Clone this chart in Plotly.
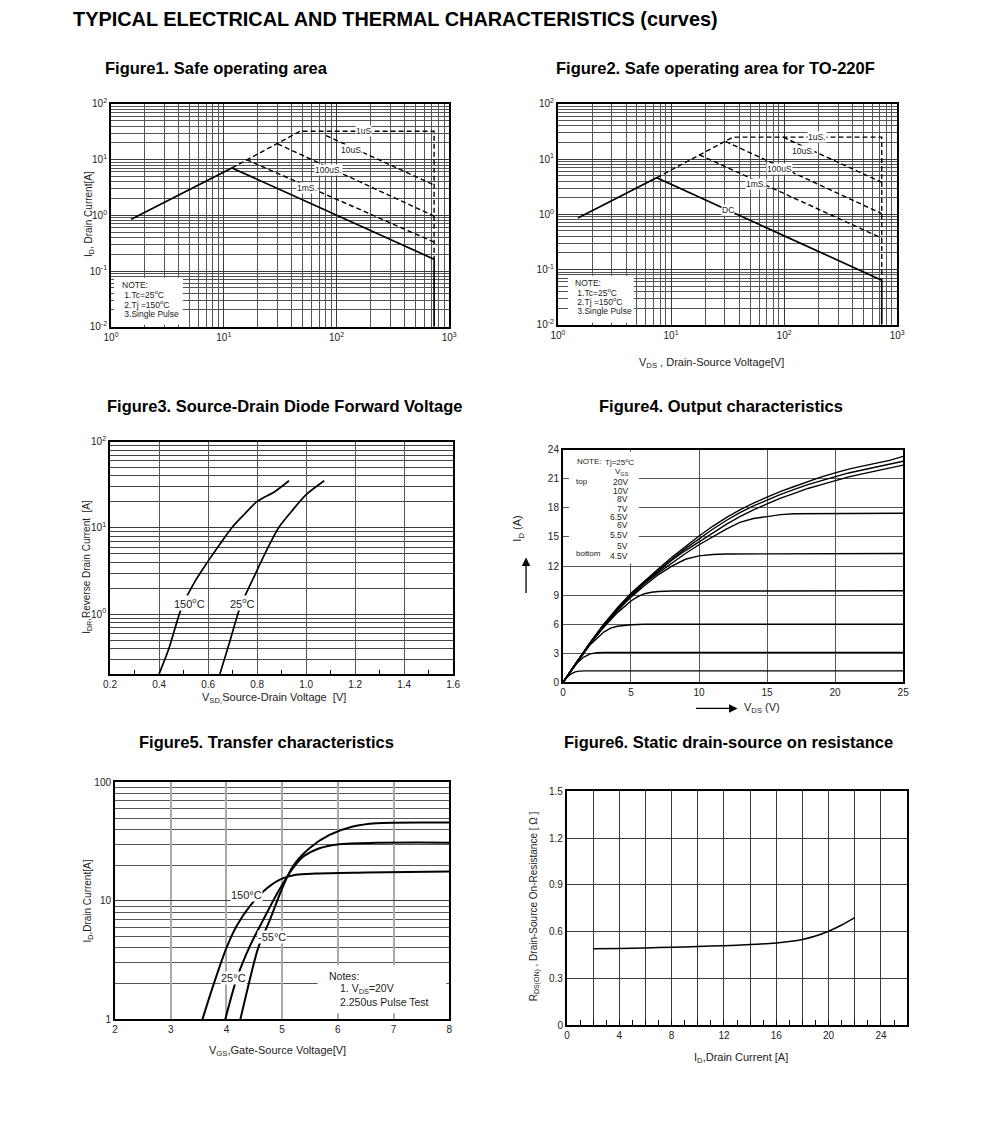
import numpy as np
import plotly.graph_objects as go

W, H = 991, 1130
OFF = 8                      # default body margin of the html page
FW, FH = W - 2 * OFF, H - 2 * OFF
FONT = "Liberation Sans, Arial, sans-serif"

# ---------------- Figure 1 : Safe operating area ----------------
f1_dc_v = [1.51, 11.8, 734, 734]
f1_dc_i = [0.85, 7.1, 0.163, 0.01]
f1_lim_v = [11.8, 47.6, 734, 734]
f1_lim_i = [7.1, 32.4, 32.4, 0.163]
f1_10us_v = [80.8, 734]
f1_10us_i = [27.1, 3.5]
f1_100us_v = [30.0, 734]
f1_100us_i = [19.2, 0.97]
f1_1ms_v = [15.9, 734]
f1_1ms_i = [10.0, 0.33]
f1_lbl = ["1uS", "10uS.", "100uS.", "1mS."]
f1_lbl_v = [173, 138, 85, 55]
f1_lbl_i = [32.4, 15.0, 6.6, 3.1]

# ---------------- Figure 2 : SOA TO-220F ----------------
f2_dc_v = [1.5, 7.46, 731, 731]
f2_dc_i = [0.86, 4.6, 0.064, 0.01]
f2_lim_v = [7.46, 17.8, 30.4, 35.3, 731, 731]
f2_lim_i = [4.6, 12.0, 20.9, 25.0, 25.0, 0.064]
f2_10us_v = [98, 731]
f2_10us_i = [25.0, 3.8]
f2_100us_v = [30.4, 731]
f2_100us_i = [20.9, 1.03]
f2_1ms_v = [17.8, 731]
f2_1ms_i = [12.0, 0.37]
f2_lbl = ["1uS.", "10uS.", "100uS", "1mS.", "DC"]
f2_lbl_v = [194, 147, 91.5, 56.8, 31.8]
f2_lbl_i = [25.0, 14.3, 6.7, 3.6, 1.18]

log_ticks_f12 = [1, 10, 100, 1000]
log_text_x12 = ["10<sup>0</sup>", "10<sup>1</sup>", "10<sup>2</sup>", "10<sup>3</sup>"]
log_ticks_y12 = [0.01, 0.1, 1, 10, 100]
log_text_y12 = ["10<sup>-2</sup>", "10<sup>-1</sup>", "10<sup>0</sup>", "10<sup>1</sup>", "10<sup>2</sup>"]
note_lines = ["NOTE:", " 1.Tc=25<sup>o</sup>C", " 2.Tj =150<sup>o</sup>C", " 3.Single Pulse"]

# ---------------- Figure 3 : Source-drain diode ----------------
f3_150_v = [0.40, 0.44, 0.492, 0.55, 0.60, 0.65, 0.696, 0.75, 0.80, 0.873, 0.93]
f3_150_i = [0.203, 0.40, 1.19, 2.5, 4.12, 6.6, 10.0, 14.6, 20.3, 26.5, 35.2]
f3_25_v = [0.648, 0.69, 0.730, 0.792, 0.84, 0.887, 0.94, 1.0, 1.074]
f3_25_i = [0.203, 0.50, 1.19, 2.9, 5.6, 10.0, 15.5, 24.3, 35.2]
f3_lbl = ["150<sup>o</sup>C", "25<sup>o</sup>C"]
f3_lbl_v = [0.525, 0.742]
f3_lbl_i = [1.36, 1.36]
log_ticks_y3 = [1, 10, 100]
log_text_y3 = ["10<sup>0</sup>", "10<sup>1</sup>", "10<sup>2</sup>"]

# ---------------- Figure 4 : Output characteristics ----------------
f4_env_v = [0, 1, 2, 3, 4, 5, 6, 7, 8, 9, 10, 11, 12, 13, 14, 15, 16, 17, 18, 19, 20, 21, 22, 23, 24, 25]
f4_20v = [0, 2.1, 4.1, 6.0, 7.7, 9.2, 10.5, 11.7, 12.9, 14.0, 15.1, 16.1, 17.0, 17.8, 18.5, 19.1, 19.7, 20.2, 20.7, 21.2, 21.6, 22.0, 22.3, 22.6, 22.9, 23.3]
f4_10v = [0, 2.1, 4.1, 6.0, 7.6, 9.1, 10.4, 11.6, 12.7, 13.8, 14.8, 15.8, 16.7, 17.5, 18.2, 18.8, 19.4, 19.9, 20.4, 20.8, 21.2, 21.6, 21.9, 22.2, 22.5, 22.8]
f4_8v = [0, 2.1, 4.1, 5.9, 7.5, 9.0, 10.3, 11.5, 12.6, 13.6, 14.5, 15.4, 16.3, 17.1, 17.8, 18.4, 19.0, 19.5, 20.0, 20.4, 20.8, 21.2, 21.5, 21.8, 22.1, 22.4]
f4_7v_v = [0, 1, 2, 3, 4, 5, 6, 7, 8, 9, 10, 11, 12, 13, 14, 15, 16, 17, 25]
f4_7v_i = [0, 2.1, 4.1, 5.9, 7.5, 8.9, 10.2, 11.3, 12.3, 13.3, 14.2, 15.0, 15.8, 16.5, 16.9, 17.1, 17.3, 17.4, 17.45]
f4_65v_v = [0, 1, 2, 3, 4, 5, 6, 7, 8, 9, 10, 11, 12, 25]
f4_65v_i = [0, 2.1, 4.0, 5.8, 7.4, 8.8, 10.0, 11.1, 12.0, 12.7, 13.05, 13.2, 13.25, 13.3]
f4_6v_v = [0, 1, 2, 3, 4, 5, 5.5, 6, 6.5, 7, 8, 25]
f4_6v_i = [0, 2.1, 4.0, 5.7, 7.2, 8.4, 8.85, 9.15, 9.3, 9.38, 9.43, 9.45]
f4_55v_v = [0, 1, 2, 3, 3.5, 4, 4.5, 5, 6, 25]
f4_55v_i = [0, 2.0, 3.9, 5.2, 5.6, 5.8, 5.9, 5.95, 6.0, 6.0]
f4_5v_v = [0, 0.5, 1, 1.5, 2, 2.5, 3, 25]
f4_5v_i = [0, 1.05, 1.95, 2.6, 2.95, 3.07, 3.1, 3.1]
f4_45v_v = [0, 0.3, 0.6, 0.9, 1.2, 1.6, 25]
f4_45v_i = [0, 0.55, 0.9, 1.1, 1.17, 1.2, 1.2]
f4_vgs = ["20V", "10V", "8V", "7V", "6.5V", "6V", "5.5V", "5V", "4.5V"]

# ---------------- Figure 5 : Transfer characteristics ----------------
f5_150_v = [3.57, 3.76, 4.0, 4.18, 4.42, 4.66, 4.96, 5.25, 5.61, 6.5, 8.0]
f5_150_i = [1.0, 1.91, 4.0, 6.1, 9.0, 12.0, 15.1, 16.6, 17.0, 17.3, 17.7]
f5_25_v = [3.98, 4.18, 4.42, 4.66, 4.9, 5.13, 5.37, 5.67, 6.03, 6.69, 8.0]
f5_25_i = [1.0, 2.17, 4.14, 6.9, 11.3, 17.1, 23.4, 27.8, 30.1, 30.9, 31.0]
f5_m55_v = [4.25, 4.42, 4.57, 4.78, 4.99, 5.19, 5.49, 5.85, 6.27, 6.69, 8.0]
f5_m55_i = [1.0, 2.17, 4.0, 6.9, 12.4, 19.5, 27.8, 36.0, 42.4, 45.2, 45.8]
f5_lbl = ["150°C", "25°C", "-55°C"]
f5_lbl_v = [4.36, 4.12, 4.81]
f5_lbl_i = [11.3, 2.24, 4.97]

# ---------------- Figure 6 : Rds(on) ----------------
f6_id = [2, 4, 6, 8, 10, 12, 14, 16, 17, 18, 19, 20, 21, 22]
f6_r = [0.49, 0.492, 0.496, 0.50, 0.505, 0.51, 0.517, 0.528, 0.537, 0.55, 0.572, 0.603, 0.643, 0.69]

# mapping from target picture pixels to figure fractions (calibrated)
CX0, CXS = 13.7, 0.986
CY0, CYS = 13.0, 0.990


def px(x):
    return ((x - CX0) / CXS) / FW


def py(y):
    return 1 - ((y - CY0) / CYS) / FH


fig = go.Figure()
BLK = "black"


def line(x, y, xa, ya, dash=None, width=1.7, shape="linear"):
    fig.add_trace(go.Scatter(
        x=x, y=y, mode="lines", xaxis=xa, yaxis=ya, showlegend=False,
        hoverinfo="skip",
        line=dict(color=BLK, width=width, dash=dash, shape=shape, smoothing=0.8)))


DASH = "5px,3px"
# Figure 1
line(f1_dc_v, f1_dc_i, "x", "y")
line(f1_lim_v, f1_lim_i, "x", "y", dash=DASH, width=1.4)
line(f1_10us_v, f1_10us_i, "x", "y", dash=DASH, width=1.4)
line(f1_100us_v, f1_100us_i, "x", "y", dash=DASH, width=1.4)
line(f1_1ms_v, f1_1ms_i, "x", "y", dash=DASH, width=1.4)
# Figure 2
line(f2_dc_v, f2_dc_i, "x2", "y2")
line(f2_lim_v, f2_lim_i, "x2", "y2", dash=DASH, width=1.4)
line(f2_10us_v, f2_10us_i, "x2", "y2", dash=DASH, width=1.4)
line(f2_100us_v, f2_100us_i, "x2", "y2", dash=DASH, width=1.4)
line(f2_1ms_v, f2_1ms_i, "x2", "y2", dash=DASH, width=1.4)
# Figure 3
line(f3_150_v, f3_150_i, "x3", "y3", shape="spline")
line(f3_25_v, f3_25_i, "x3", "y3", shape="spline")
# Figure 4
for xv, yv in [(f4_env_v, f4_20v), (f4_env_v, f4_10v), (f4_env_v, f4_8v),
               (f4_7v_v, f4_7v_i), (f4_65v_v, f4_65v_i), (f4_6v_v, f4_6v_i),
               (f4_55v_v, f4_55v_i), (f4_5v_v, f4_5v_i), (f4_45v_v, f4_45v_i)]:
    line(xv, yv, "x4", "y4", width=1.4)
# Figure 5
line(f5_150_v, f5_150_i, "x5", "y5", shape="spline", width=2)
line(f5_25_v, f5_25_i, "x5", "y5", shape="spline", width=2)
line(f5_m55_v, f5_m55_i, "x5", "y5", shape="spline", width=2)
# Figure 6
line(f6_id, f6_r, "x6", "y6", shape="spline", width=1.5)

TF = dict(size=10, color="#222", family=FONT)
GRID = "#3a3a3a"


def base(**kw):
    d = dict(showline=True, linecolor=BLK, linewidth=2, mirror=True, ticks="",
             showgrid=True, gridcolor=GRID, gridwidth=1, zeroline=False,
             tickfont=TF, fixedrange=True)
    d.update(kw)
    return d


def logminor(color="#555"):
    return dict(dtick="D1", showgrid=True, gridcolor=color, gridwidth=1, ticks="")


# panel frames, in target picture pixels
dom = {
    1: ((109, 448), (102, 325)),
    2: ((557, 897), (102, 323)),
    3: ((108, 452), (440, 673)),
    4: ((562, 903), (448, 681)),
    5: ((113, 448), (781, 1018)),
    6: ((566, 907), (790, 1024)),
}


def xd(k):
    return [px(dom[k][0][0]), px(dom[k][0][1])]


def yd(k):
    return [py(dom[k][1][1]), py(dom[k][1][0])]


lay = dict(
    width=FW, height=FH, margin=dict(l=0, r=0, t=0, b=0),
    paper_bgcolor="white", plot_bgcolor="white",
    font=dict(family=FONT, color="#222"),
)
lay["xaxis"] = base(domain=xd(1), anchor="y", type="log", range=[0, 3],
                    tickvals=log_ticks_f12, ticktext=log_text_x12, minor=logminor())
lay["yaxis"] = base(domain=yd(1), anchor="x", type="log", range=[-2, 2],
                    tickvals=log_ticks_y12, ticktext=log_text_y12, minor=logminor())
lay["xaxis2"] = base(domain=xd(2), anchor="y2", type="log", range=[0, 3],
                     tickvals=log_ticks_f12, ticktext=log_text_x12, minor=logminor())
lay["yaxis2"] = base(domain=yd(2), anchor="x2", type="log", range=[-2, 2],
                     tickvals=log_ticks_y12, ticktext=log_text_y12, minor=logminor())
lay["xaxis3"] = base(domain=xd(3), anchor="y3", range=[0.2, 1.6], dtick=0.2, tick0=0.2,
                     tickformat=".1f", gridcolor="#555",
                     minor=dict(dtick=0.1, ticks="inside", ticklen=4, tickcolor=BLK, showgrid=False))
lay["yaxis3"] = base(domain=yd(3), anchor="x3", type="log", range=[np.log10(0.2), 2],
                     tickvals=log_ticks_y3, ticktext=log_text_y3, minor=logminor("#444"))
lay["xaxis4"] = base(domain=xd(4), anchor="y4", range=[0, 25], dtick=5, gridcolor="#555")
lay["yaxis4"] = base(domain=yd(4), anchor="x4", range=[0, 24], dtick=3, gridcolor="#555")
lay["xaxis5"] = base(domain=xd(5), anchor="y5", range=[2, 8], dtick=1, gridcolor="#aaa", gridwidth=2)
lay["yaxis5"] = base(domain=yd(5), anchor="x5", type="log", range=[0, 2],
                     tickvals=[1, 10, 100], ticktext=["1", "10", "100"], minor=logminor("#555"))
lay["xaxis6"] = base(domain=xd(6), anchor="y6", range=[0, 26],
                     tickvals=list(range(0, 26, 2)),
                     ticktext=[str(v) if v % 4 == 0 else "" for v in range(0, 26, 2)],
                     ticks="inside", ticklen=5, tickcolor=BLK,
                     minor=dict(dtick=1, ticks="inside", ticklen=5, tickcolor=BLK, showgrid=False))
lay["yaxis6"] = base(domain=yd(6), anchor="x6", range=[0, 1.5], dtick=0.3)
fig.update_layout(**lay)

ann = []
shapes = []


def text(x, y, t, size=11, bold=False, xanchor="center", yanchor="middle", angle=0, color="#222"):
    ann.append(dict(x=px(x), y=py(y), xref="paper", yref="paper",
                    text=("<b>%s</b>" % t) if bold else t,
                    showarrow=False, xanchor=xanchor, yanchor=yanchor, textangle=angle,
                    borderpad=0, font=dict(size=size, color=color, family=FONT)))


def dlabel(xv, yv, t, xa, ya, logx, logy, size=9):
    ann.append(dict(x=np.log10(xv) if logx else xv, y=np.log10(yv) if logy else yv,
                    xref=xa, yref=ya, text=t, showarrow=False, bgcolor="white",
                    borderpad=0, font=dict(size=size, color="#222", family=FONT)))


def rect(x0, y0, x1, y1):
    shapes.append(dict(type="rect", xref="paper", yref="paper", x0=px(x0), x1=px(x1),
                       y0=py(y1), y1=py(y0), fillcolor="white", line=dict(width=0), layer="above"))


# titles
text(70, 17, "TYPICAL ELECTRICAL AND THERMAL CHARACTERISTICS (curves)", size=19.9, bold=True,
     xanchor="left", color="black")
TS = 16.5
text(215, 66, "Figure1. Safe operating area", size=TS, bold=True, color="black")
text(715, 66, "Figure2. Safe operating area for TO-220F", size=TS, bold=True, color="black")
text(283, 404, "Figure3. Source-Drain Diode Forward Voltage", size=TS, bold=True, color="black")
text(720, 404, "Figure4. Output characteristics", size=TS, bold=True, color="black")
text(265, 741, "Figure5. Transfer characteristics", size=TS, bold=True, color="black")
text(728, 741, "Figure6. Static drain-source on resistance", size=TS, bold=True, color="black")

# Figure 1 labels
for t, v, i in zip(f1_lbl, f1_lbl_v, f1_lbl_i):
    dlabel(v, i, t, "x", "y", True, True, size=8.5)
text(87, 212, "I<sub>D</sub>, Drain Current[A]", size=10, angle=-90)
rect(112, 276, 181, 323)
for k, t in enumerate(note_lines):
    text(119, 283 + k * 9.7, t, size=8.5, xanchor="left")

# Figure 2 labels
for t, v, i in zip(f2_lbl, f2_lbl_v, f2_lbl_i):
    dlabel(v, i, t, "x2", "y2", True, True, size=8.5)
text(711, 361, "V<sub>DS</sub> , Drain-Source Voltage[V]", size=11)
rect(567, 274, 633, 321)
for k, t in enumerate(note_lines):
    text(573, 281 + k * 9.5, t, size=8.5, xanchor="left")

# Figure 3 labels
for t, v, i in zip(f3_lbl, f3_lbl_v, f3_lbl_i):
    dlabel(v, i, t, "x3", "y3", False, True, size=11)
text(84, 565, "I<sub>DR</sub>,Reverse Drain Current  [A]", size=10, angle=-90)
text(272, 697, "V<sub>SD,</sub>Source-Drain Voltage  [V]", size=11)

# Figure 4 note
rect(568, 450, 638, 562)
text(575, 460, "NOTE:", size=8, xanchor="left")
text(603, 460, "Tj=25<sup>o</sup>C", size=8, xanchor="left")
text(621, 470, "V<sub>GS</sub>", size=8)
text(574, 480, "top", size=8, xanchor="left")
text(574, 552, "bottom", size=8, xanchor="left")
f4_ys = [480, 489, 497, 507, 515, 523, 533, 544, 554]
for t, yy in zip(f4_vgs, f4_ys):
    text(628, yy, t, size=8.5, xanchor="right")
text(517, 527, "I<sub>D</sub> (A)", size=11, angle=-90)
ann.append(dict(x=px(525), y=py(556), xref="paper", yref="paper", text="", showarrow=True,
                ax=0, ay=37, axref="pixel", ayref="pixel", arrowhead=2, arrowsize=1.3,
                arrowwidth=1.3, arrowcolor=BLK))
ann.append(dict(x=px(737), y=py(707), xref="paper", yref="paper", text="", showarrow=True,
                ax=-43, ay=0, axref="pixel", ayref="pixel", arrowhead=2, arrowsize=1.3,
                arrowwidth=1.3, arrowcolor=BLK))
text(762, 707, "V<sub>DS</sub> (V)", size=11)

# Figure 5 labels
for t, v, i in zip(f5_lbl, f5_lbl_v, f5_lbl_i):
    dlabel(v, i, t, "x5", "y5", False, True, size=11)
rect(316, 964, 445, 1012)
text(326, 975, "Notes:", size=10.5, xanchor="left")
text(337, 987.5, "1. V<sub>DS</sub>=20V", size=10.5, xanchor="left")
text(337, 1000.5, "2.250us Pulse Test", size=10.5, xanchor="left")
text(86, 900, "I<sub>D</sub>,Drain Current[A]", size=10, angle=-90)
text(276, 1050, "V<sub>GS</sub>,Gate-Source Voltage[V]", size=11)

# Figure 6 labels
text(533, 905, "R<sub>DS(ON)</sub> , Drain-Source On-Resistance [ Ω ]", size=10, angle=-90)
text(740, 1057, "I<sub>D</sub>,Drain Current [A]", size=11)

fig.update_layout(annotations=ann, shapes=shapes)
fig.write_html("out.html")
